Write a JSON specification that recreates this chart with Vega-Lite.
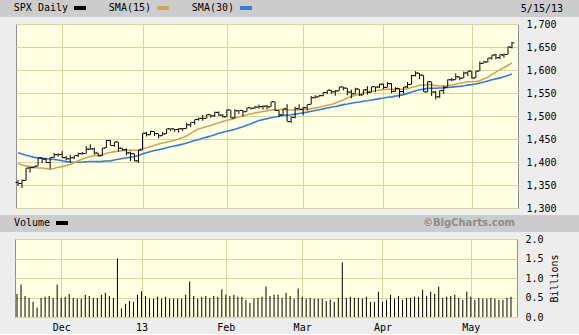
{
"$schema": "https://vega.github.io/schema/vega-lite/v6.json",
"background": "#ededed",
"padding": {"left": 0, "top": 0, "right": 0, "bottom": 1},
"spacing": 1,
"config": {
  "font": "DejaVu Sans Mono",
  "view": {"stroke": null},
  "axis": {"labelFont": "DejaVu Sans Mono", "labelFontSize": 10, "labelColor": "#000000", "gridColor": "#d8d4a2", "gridOpacity": 1, "gridWidth": 1, "domain": false, "ticks": false},
  "legend": {"orient": "none", "direction": "horizontal", "title": null, "symbolType": "M-1,-0.33H1V0.33H-1Z", "symbolSize": 144, "symbolStrokeWidth": 0, "symbolOpacity": 1, "labelFont": "DejaVu Sans Mono", "labelFontSize": 10, "labelColor": "#000000", "labelAlign": "right", "labelOffset": -18, "columnPadding": 22, "padding": 0}
},
"resolve": {"scale": {"color": "independent"}, "legend": {"color": "independent"}},
"datasets": {"d": [
{"t":"2012-11-15","i":0,"o":1355.41,"h":1360.62,"l":1348.05,"c":1353.33,"s15":1396.6,"s30":1420.2,"v":0.59},
{"t":"2012-11-16","i":1,"o":1353.36,"h":1362.03,"l":1343.35,"c":1359.88,"s15":1393.3,"s30":1417.2,"v":0.83},
{"t":"2012-11-19","i":2,"o":1359.88,"h":1386.89,"l":1359.88,"c":1386.89,"s15":1391.6,"s30":1414.7,"v":0.54},
{"t":"2012-11-20","i":3,"o":1386.82,"h":1389.77,"l":1377.04,"c":1387.81,"s15":1390.0,"s30":1412.3,"v":0.49},
{"t":"2012-11-21","i":4,"o":1387.79,"h":1391.25,"l":1386.39,"c":1391.03,"s15":1388.6,"s30":1410.1,"v":0.39},
{"t":"2012-11-23","i":5,"o":1391.03,"h":1409.16,"l":1391.03,"c":1409.15,"s15":1387.3,"s30":1409.0,"v":0.24},
{"t":"2012-11-26","i":6,"o":1409.15,"h":1409.15,"l":1397.68,"c":1406.29,"s15":1386.8,"s30":1408.2,"v":0.49},
{"t":"2012-11-27","i":7,"o":1406.29,"h":1409.01,"l":1398.03,"c":1398.94,"s15":1385.6,"s30":1407.0,"v":0.52},
{"t":"2012-11-28","i":8,"o":1398.77,"h":1410.31,"l":1385.43,"c":1409.93,"s15":1384.3,"s30":1406.4,"v":0.54},
{"t":"2012-11-29","i":9,"o":1409.96,"h":1419.70,"l":1409.04,"c":1415.95,"s15":1385.8,"s30":1405.6,"v":0.49},
{"t":"2012-11-30","i":10,"o":1415.95,"h":1418.86,"l":1411.63,"c":1416.18,"s15":1388.4,"s30":1404.3,"v":0.83},
{"t":"2012-12-03","i":11,"o":1416.34,"h":1423.73,"l":1408.46,"c":1409.46,"s15":1390.3,"s30":1402.6,"v":0.49},
{"t":"2012-12-04","i":12,"o":1409.46,"h":1413.14,"l":1403.65,"c":1407.05,"s15":1392.1,"s30":1400.9,"v":0.52},
{"t":"2012-12-05","i":13,"o":1407.05,"h":1415.56,"l":1398.23,"c":1409.28,"s15":1394.4,"s30":1400.1,"v":0.59},
{"t":"2012-12-06","i":14,"o":1409.43,"h":1413.95,"l":1405.93,"c":1413.94,"s15":1398.3,"s30":1399.5,"v":0.49},
{"t":"2012-12-07","i":15,"o":1413.95,"h":1420.34,"l":1410.90,"c":1418.07,"s15":1402.7,"s30":1399.6,"v":0.47},
{"t":"2012-12-10","i":16,"o":1418.07,"h":1421.64,"l":1415.64,"c":1418.55,"s15":1406.6,"s30":1399.9,"v":0.47},
{"t":"2012-12-11","i":17,"o":1418.55,"h":1434.27,"l":1418.55,"c":1427.84,"s15":1409.3,"s30":1400.4,"v":0.57},
{"t":"2012-12-12","i":18,"o":1427.84,"h":1438.59,"l":1426.76,"c":1428.48,"s15":1412.0,"s30":1401.0,"v":0.54},
{"t":"2012-12-13","i":19,"o":1428.48,"h":1431.36,"l":1416.00,"c":1419.45,"s15":1413.9,"s30":1401.2,"v":0.49},
{"t":"2012-12-14","i":20,"o":1419.45,"h":1419.45,"l":1411.88,"c":1413.58,"s15":1414.2,"s30":1400.8,"v":0.49},
{"t":"2012-12-17","i":21,"o":1413.54,"h":1430.67,"l":1413.54,"c":1430.36,"s15":1415.8,"s30":1401.3,"v":0.57},
{"t":"2012-12-18","i":22,"o":1430.47,"h":1448.00,"l":1430.47,"c":1446.79,"s15":1419.0,"s30":1402.3,"v":0.62},
{"t":"2012-12-19","i":23,"o":1446.79,"h":1447.75,"l":1435.80,"c":1435.81,"s15":1420.7,"s30":1402.5,"v":0.54},
{"t":"2012-12-20","i":24,"o":1435.81,"h":1443.70,"l":1432.82,"c":1443.69,"s15":1422.6,"s30":1404.2,"v":0.49},
{"t":"2012-12-21","i":25,"o":1443.67,"h":1443.67,"l":1422.58,"c":1430.15,"s15":1423.5,"s30":1405.9,"v":1.50},
{"t":"2012-12-24","i":26,"o":1430.15,"h":1430.15,"l":1424.66,"c":1426.66,"s15":1424.7,"s30":1407.5,"v":0.22},
{"t":"2012-12-26","i":27,"o":1426.66,"h":1429.42,"l":1414.76,"c":1419.83,"s15":1425.5,"s30":1408.8,"v":0.34},
{"t":"2012-12-27","i":28,"o":1419.83,"h":1422.80,"l":1401.80,"c":1418.10,"s15":1426.1,"s30":1410.3,"v":0.41},
{"t":"2012-12-28","i":29,"o":1418.10,"h":1418.10,"l":1401.58,"c":1402.43,"s15":1425.3,"s30":1411.8,"v":0.39},
{"t":"2012-12-31","i":30,"o":1402.43,"h":1426.74,"l":1398.11,"c":1426.19,"s15":1425.9,"s30":1414.3,"v":0.57},
{"t":"2013-01-02","i":31,"o":1426.19,"h":1462.43,"l":1426.19,"c":1462.42,"s15":1428.8,"s30":1417.7,"v":0.66},
{"t":"2013-01-03","i":32,"o":1462.42,"h":1465.47,"l":1455.53,"c":1459.37,"s15":1430.9,"s30":1420.1,"v":0.54},
{"t":"2013-01-04","i":33,"o":1459.37,"h":1467.94,"l":1458.99,"c":1466.47,"s15":1433.4,"s30":1422.7,"v":0.47},
{"t":"2013-01-07","i":34,"o":1466.47,"h":1466.47,"l":1456.62,"c":1461.89,"s15":1436.3,"s30":1425.1,"v":0.47},
{"t":"2013-01-08","i":35,"o":1461.89,"h":1461.89,"l":1451.64,"c":1457.15,"s15":1439.2,"s30":1426.7,"v":0.52},
{"t":"2013-01-09","i":36,"o":1457.15,"h":1464.73,"l":1457.15,"c":1461.02,"s15":1441.2,"s30":1428.5,"v":0.47},
{"t":"2013-01-10","i":37,"o":1461.02,"h":1472.30,"l":1461.02,"c":1472.12,"s15":1442.9,"s30":1430.9,"v":0.52},
{"t":"2013-01-11","i":38,"o":1472.12,"h":1472.75,"l":1467.58,"c":1472.05,"s15":1445.3,"s30":1433.0,"v":0.47},
{"t":"2013-01-14","i":39,"o":1472.05,"h":1472.05,"l":1465.69,"c":1470.68,"s15":1447.1,"s30":1434.8,"v":0.47},
{"t":"2013-01-15","i":40,"o":1470.67,"h":1473.31,"l":1463.76,"c":1472.34,"s15":1449.9,"s30":1436.7,"v":0.47},
{"t":"2013-01-16","i":41,"o":1472.33,"h":1473.96,"l":1467.60,"c":1472.63,"s15":1453.0,"s30":1438.8,"v":0.47},
{"t":"2013-01-17","i":42,"o":1472.63,"h":1485.16,"l":1472.63,"c":1480.94,"s15":1457.1,"s30":1441.3,"v":0.57},
{"t":"2013-01-18","i":43,"o":1480.95,"h":1485.98,"l":1475.81,"c":1485.98,"s15":1461.6,"s30":1443.8,"v":0.91},
{"t":"2013-01-22","i":44,"o":1485.98,"h":1492.56,"l":1481.16,"c":1492.56,"s15":1467.6,"s30":1446.5,"v":0.54},
{"t":"2013-01-23","i":45,"o":1492.56,"h":1496.13,"l":1489.90,"c":1494.81,"s15":1472.2,"s30":1449.0,"v":0.47},
{"t":"2013-01-24","i":46,"o":1494.81,"h":1502.27,"l":1489.46,"c":1494.82,"s15":1474.3,"s30":1451.6,"v":0.52},
{"t":"2013-01-25","i":47,"o":1494.82,"h":1503.26,"l":1494.82,"c":1502.96,"s15":1477.2,"s30":1454.1,"v":0.54},
{"t":"2013-01-28","i":48,"o":1502.96,"h":1503.23,"l":1496.33,"c":1500.18,"s15":1479.5,"s30":1456.4,"v":0.49},
{"t":"2013-01-29","i":49,"o":1500.18,"h":1509.35,"l":1498.09,"c":1507.84,"s15":1482.5,"s30":1459.4,"v":0.54},
{"t":"2013-01-30","i":50,"o":1507.84,"h":1509.94,"l":1500.11,"c":1501.96,"s15":1485.5,"s30":1462.3,"v":0.52},
{"t":"2013-01-31","i":51,"o":1501.96,"h":1504.19,"l":1496.76,"c":1498.11,"s15":1488.0,"s30":1464.6,"v":0.71},
{"t":"2013-02-01","i":52,"o":1498.11,"h":1514.41,"l":1498.11,"c":1513.17,"s15":1490.7,"s30":1466.8,"v":0.57},
{"t":"2013-02-04","i":53,"o":1513.17,"h":1513.17,"l":1495.02,"c":1495.71,"s15":1492.3,"s30":1468.8,"v":0.54},
{"t":"2013-02-05","i":54,"o":1495.71,"h":1514.96,"l":1495.71,"c":1511.29,"s15":1495.0,"s30":1471.1,"v":0.57},
{"t":"2013-02-06","i":55,"o":1511.29,"h":1512.53,"l":1504.71,"c":1512.12,"s15":1497.7,"s30":1473.8,"v":0.52},
{"t":"2013-02-07","i":56,"o":1512.12,"h":1512.90,"l":1498.49,"c":1509.39,"s15":1500.1,"s30":1476.5,"v":0.52},
{"t":"2013-02-08","i":57,"o":1509.39,"h":1518.31,"l":1509.39,"c":1517.93,"s15":1502.6,"s30":1479.8,"v":0.44},
{"t":"2013-02-11","i":58,"o":1517.93,"h":1518.31,"l":1513.61,"c":1517.01,"s15":1504.7,"s30":1483.1,"v":0.36},
{"t":"2013-02-12","i":59,"o":1517.01,"h":1522.29,"l":1515.61,"c":1519.43,"s15":1506.5,"s30":1487.0,"v":0.47},
{"t":"2013-02-13","i":60,"o":1519.43,"h":1524.69,"l":1515.93,"c":1520.33,"s15":1508.2,"s30":1490.2,"v":0.49},
{"t":"2013-02-14","i":61,"o":1520.33,"h":1523.14,"l":1514.02,"c":1521.38,"s15":1509.9,"s30":1492.1,"v":0.52},
{"t":"2013-02-15","i":62,"o":1521.38,"h":1524.24,"l":1514.14,"c":1519.79,"s15":1511.1,"s30":1494.1,"v":0.78},
{"t":"2013-02-19","i":63,"o":1519.79,"h":1530.94,"l":1519.79,"c":1530.94,"s15":1513.1,"s30":1496.3,"v":0.54},
{"t":"2013-02-20","i":64,"o":1530.94,"h":1530.94,"l":1511.41,"c":1511.95,"s15":1513.4,"s30":1497.9,"v":0.57},
{"t":"2013-02-21","i":65,"o":1511.95,"h":1511.95,"l":1497.29,"c":1502.42,"s15":1513.4,"s30":1499.5,"v":0.57},
{"t":"2013-02-22","i":66,"o":1502.42,"h":1515.64,"l":1502.42,"c":1515.60,"s15":1514.6,"s30":1501.3,"v":0.49},
{"t":"2013-02-25","i":67,"o":1515.60,"h":1525.84,"l":1487.85,"c":1487.85,"s15":1512.9,"s30":1501.8,"v":0.62},
{"t":"2013-02-26","i":68,"o":1487.85,"h":1498.99,"l":1485.01,"c":1496.94,"s15":1513.0,"s30":1502.6,"v":0.54},
{"t":"2013-02-27","i":69,"o":1496.94,"h":1520.08,"l":1494.88,"c":1515.99,"s15":1513.3,"s30":1504.1,"v":0.47},
{"t":"2013-02-28","i":70,"o":1515.99,"h":1525.34,"l":1514.46,"c":1514.68,"s15":1513.5,"s30":1505.6,"v":0.73},
{"t":"2013-03-01","i":71,"o":1514.68,"h":1519.99,"l":1501.48,"c":1518.20,"s15":1514.0,"s30":1507.1,"v":0.52},
{"t":"2013-03-04","i":72,"o":1518.20,"h":1525.27,"l":1512.29,"c":1525.20,"s15":1514.5,"s30":1508.5,"v":0.47},
{"t":"2013-03-05","i":73,"o":1525.20,"h":1543.47,"l":1525.20,"c":1539.79,"s15":1516.0,"s30":1510.3,"v":0.49},
{"t":"2013-03-06","i":74,"o":1539.79,"h":1545.25,"l":1538.11,"c":1541.46,"s15":1517.5,"s30":1512.0,"v":0.47},
{"t":"2013-03-07","i":75,"o":1541.46,"h":1545.78,"l":1541.46,"c":1544.26,"s15":1519.1,"s30":1513.6,"v":0.47},
{"t":"2013-03-08","i":76,"o":1544.26,"h":1552.48,"l":1542.94,"c":1551.18,"s15":1521.1,"s30":1515.5,"v":0.47},
{"t":"2013-03-11","i":77,"o":1551.15,"h":1556.27,"l":1547.36,"c":1556.22,"s15":1523.5,"s30":1517.3,"v":0.41},
{"t":"2013-03-12","i":78,"o":1556.22,"h":1556.77,"l":1548.24,"c":1552.48,"s15":1525.0,"s30":1519.0,"v":0.44},
{"t":"2013-03-13","i":79,"o":1552.48,"h":1556.39,"l":1544.00,"c":1554.52,"s15":1527.8,"s30":1520.6,"v":0.39},
{"t":"2013-03-14","i":80,"o":1554.52,"h":1563.32,"l":1554.52,"c":1563.23,"s15":1531.8,"s30":1522.6,"v":0.49},
{"t":"2013-03-15","i":81,"o":1563.21,"h":1563.62,"l":1555.74,"c":1560.70,"s15":1534.9,"s30":1524.7,"v":1.40},
{"t":"2013-03-18","i":82,"o":1560.70,"h":1560.70,"l":1545.13,"c":1552.10,"s15":1539.1,"s30":1526.0,"v":0.49},
{"t":"2013-03-19","i":83,"o":1552.10,"h":1557.25,"l":1538.57,"c":1548.34,"s15":1542.6,"s30":1527.8,"v":0.52},
{"t":"2013-03-20","i":84,"o":1548.34,"h":1561.56,"l":1548.34,"c":1558.71,"s15":1545.4,"s30":1529.3,"v":0.49},
{"t":"2013-03-21","i":85,"o":1558.71,"h":1558.71,"l":1543.55,"c":1545.80,"s15":1547.5,"s30":1530.5,"v":0.49},
{"t":"2013-03-22","i":86,"o":1545.90,"h":1557.74,"l":1545.90,"c":1556.89,"s15":1550.1,"s30":1532.0,"v":0.47},
{"t":"2013-03-25","i":87,"o":1556.89,"h":1564.91,"l":1546.22,"c":1551.69,"s15":1551.8,"s30":1533.2,"v":0.52},
{"t":"2013-03-26","i":88,"o":1551.69,"h":1563.95,"l":1551.69,"c":1563.77,"s15":1553.4,"s30":1534.7,"v":0.39},
{"t":"2013-03-27","i":89,"o":1563.75,"h":1564.07,"l":1551.90,"c":1562.85,"s15":1554.9,"s30":1536.2,"v":0.39},
{"t":"2013-03-28","i":90,"o":1562.86,"h":1570.28,"l":1561.08,"c":1569.19,"s15":1556.5,"s30":1537.8,"v":0.65},
{"t":"2013-04-01","i":91,"o":1569.18,"h":1570.57,"l":1558.47,"c":1562.17,"s15":1557.3,"s30":1539.2,"v":0.39},
{"t":"2013-04-02","i":92,"o":1562.17,"h":1573.66,"l":1562.17,"c":1570.25,"s15":1558.2,"s30":1540.8,"v":0.44},
{"t":"2013-04-03","i":93,"o":1570.25,"h":1571.47,"l":1549.80,"c":1553.69,"s15":1558.3,"s30":1541.6,"v":0.57},
{"t":"2013-04-04","i":94,"o":1553.69,"h":1562.60,"l":1552.52,"c":1559.98,"s15":1558.6,"s30":1543.2,"v":0.47},
{"t":"2013-04-05","i":95,"o":1559.98,"h":1559.98,"l":1539.50,"c":1553.28,"s15":1558.0,"s30":1544.9,"v":0.54},
{"t":"2013-04-08","i":96,"o":1553.26,"h":1563.07,"l":1548.63,"c":1563.07,"s15":1558.1,"s30":1546.5,"v":0.44},
{"t":"2013-04-09","i":97,"o":1563.11,"h":1573.89,"l":1560.92,"c":1568.61,"s15":1559.2,"s30":1549.2,"v":0.49},
{"t":"2013-04-10","i":98,"o":1568.61,"h":1589.07,"l":1568.61,"c":1587.73,"s15":1561.9,"s30":1552.2,"v":0.49},
{"t":"2013-04-11","i":99,"o":1587.73,"h":1597.35,"l":1586.17,"c":1593.37,"s15":1564.2,"s30":1554.8,"v":0.52},
{"t":"2013-04-12","i":100,"o":1593.30,"h":1593.30,"l":1579.97,"c":1588.85,"s15":1567.0,"s30":1557.2,"v":0.52},
{"t":"2013-04-15","i":101,"o":1588.84,"h":1588.84,"l":1552.28,"c":1552.36,"s15":1566.7,"s30":1558.4,"v":0.70},
{"t":"2013-04-16","i":102,"o":1552.36,"h":1575.35,"l":1552.36,"c":1574.57,"s15":1568.3,"s30":1560.0,"v":0.54},
{"t":"2013-04-17","i":103,"o":1574.57,"h":1574.57,"l":1543.69,"c":1552.01,"s15":1567.5,"s30":1560.4,"v":0.65},
{"t":"2013-04-18","i":104,"o":1552.03,"h":1554.38,"l":1536.03,"c":1541.61,"s15":1566.1,"s30":1560.4,"v":0.59},
{"t":"2013-04-19","i":105,"o":1541.61,"h":1555.89,"l":1539.40,"c":1555.25,"s15":1565.1,"s30":1560.8,"v":0.78},
{"t":"2013-04-22","i":106,"o":1555.25,"h":1565.55,"l":1548.19,"c":1562.50,"s15":1565.1,"s30":1561.2,"v":0.49},
{"t":"2013-04-23","i":107,"o":1562.50,"h":1579.58,"l":1562.50,"c":1578.78,"s15":1565.7,"s30":1561.9,"v":0.52},
{"t":"2013-04-24","i":108,"o":1578.78,"h":1583.00,"l":1575.80,"c":1578.79,"s15":1567.4,"s30":1562.8,"v":0.54},
{"t":"2013-04-25","i":109,"o":1578.78,"h":1592.64,"l":1578.78,"c":1585.16,"s15":1569.1,"s30":1563.8,"v":0.57},
{"t":"2013-04-26","i":110,"o":1585.16,"h":1585.78,"l":1577.56,"c":1582.24,"s15":1571.0,"s30":1564.5,"v":0.49},
{"t":"2013-04-29","i":111,"o":1582.34,"h":1596.65,"l":1582.34,"c":1593.61,"s15":1573.0,"s30":1565.6,"v":0.44},
{"t":"2013-04-30","i":112,"o":1593.58,"h":1597.57,"l":1586.50,"c":1597.57,"s15":1575.0,"s30":1567.1,"v":0.65},
{"t":"2013-05-01","i":113,"o":1597.55,"h":1597.55,"l":1581.28,"c":1582.70,"s15":1574.6,"s30":1568.2,"v":0.52},
{"t":"2013-05-02","i":114,"o":1582.77,"h":1598.60,"l":1582.77,"c":1597.59,"s15":1574.9,"s30":1569.5,"v":0.44},
{"t":"2013-05-03","i":115,"o":1597.60,"h":1618.46,"l":1597.60,"c":1614.42,"s15":1576.6,"s30":1571.8,"v":0.49},
{"t":"2013-05-06","i":116,"o":1614.40,"h":1619.77,"l":1614.21,"c":1617.50,"s15":1581.0,"s30":1573.8,"v":0.47},
{"t":"2013-05-07","i":117,"o":1617.55,"h":1626.03,"l":1616.64,"c":1625.96,"s15":1584.4,"s30":1576.3,"v":0.47},
{"t":"2013-05-08","i":118,"o":1625.95,"h":1632.78,"l":1622.70,"c":1632.69,"s15":1589.8,"s30":1578.6,"v":0.49},
{"t":"2013-05-09","i":119,"o":1632.69,"h":1635.01,"l":1623.09,"c":1626.67,"s15":1595.4,"s30":1580.7,"v":0.47},
{"t":"2013-05-10","i":120,"o":1626.69,"h":1633.70,"l":1623.71,"c":1633.70,"s15":1600.7,"s30":1582.9,"v":0.44},
{"t":"2013-05-13","i":121,"o":1632.10,"h":1636.00,"l":1626.74,"c":1633.77,"s15":1605.4,"s30":1585.3,"v":0.44},
{"t":"2013-05-14","i":122,"o":1633.75,"h":1651.10,"l":1633.75,"c":1650.34,"s15":1610.2,"s30":1587.9,"v":0.49},
{"t":"2013-05-15","i":123,"o":1649.13,"h":1661.49,"l":1646.68,"c":1658.78,"s15":1615.5,"s30":1591.4,"v":0.52}
]},
"vconcat": [
  {
    "width": 579, "height": 17,
    "data": {"values": []},
    "mark": "rect",
    "view": {"fill": "#cccccc", "stroke": null},
    "encoding": {
      "color": {"datum": "SPX Daily", "type": "nominal",
                "scale": {"domain": ["SPX Daily", "SMA(15)", "SMA(30)"], "range": ["#000000", "#d3a35c", "#3a7bd5"]},
                "legend": {"legendX": 74, "legendY": 2}}
    },
    "title": {"text": "5/15/13", "orient": "bottom", "anchor": "end", "offset": -13, "dx": -16, "baseline": "top", "font": "DejaVu Sans Mono", "fontSize": 10, "fontWeight": "normal", "color": "#000000"}
  },
  {
    "hconcat": [
      {"width": 14, "height": 184, "data": {"values": []}, "mark": "rect", "view": {"stroke": null}},
      {
        "width": 502, "height": 184,
        "data": {"name": "d"},
        "view": {"fill": "#ffffe2", "stroke": "#8e8e8e"},
        "encoding": {
          "x": {"field": "i", "type": "quantitative", "scale": {"domain": [-0.5, 124.5], "nice": false, "zero": false},
                "axis": {"values": [11, 31, 52, 71, 91, 113], "labels": false, "title": null, "grid": true}}
        },
        "layer": [
          {
            "mark": {"type": "line", "strokeWidth": 1.6, "color": "#3a7bd5"},
            "encoding": {
              "y": {"field": "s30", "type": "quantitative", "scale": {"domain": [1300, 1700], "nice": false, "zero": false},
                    "axis": {"orient": "right", "values": [1300, 1350, 1400, 1450, 1500, 1550, 1600, 1650, 1700], "format": ",.0f", "title": null, "labelPadding": 8, "grid": true}}
            }
          },
          {
            "mark": {"type": "line", "strokeWidth": 1.6, "color": "#d3a35c"},
            "encoding": {
              "y": {"field": "s15", "type": "quantitative", "scale": {"domain": [1300, 1700], "nice": false, "zero": false},
                    "axis": {"orient": "right", "values": [1300, 1350, 1400, 1450, 1500, 1550, 1600, 1650, 1700], "format": ",.0f", "title": null, "labelPadding": 8, "grid": true}}
            }
          },
          {
            "mark": {"type": "rule", "color": "#000000", "strokeWidth": 1},
            "encoding": {
              "y": {"field": "l", "type": "quantitative", "scale": {"domain": [1300, 1700], "nice": false, "zero": false},
                    "axis": {"orient": "right", "values": [1300, 1350, 1400, 1450, 1500, 1550, 1600, 1650, 1700], "format": ",.0f", "title": null, "labelPadding": 8, "grid": true}},
              "y2": {"field": "h"}
            }
          },
          {
            "mark": {"type": "tick", "orient": "horizontal", "size": 2, "thickness": 1, "xOffset": -1.5, "color": "#000000", "opacity": 1},
            "encoding": {
              "y": {"field": "o", "type": "quantitative", "scale": {"domain": [1300, 1700], "nice": false, "zero": false},
                    "axis": {"orient": "right", "values": [1300, 1350, 1400, 1450, 1500, 1550, 1600, 1650, 1700], "format": ",.0f", "title": null, "labelPadding": 8, "grid": true}}
            }
          },
          {
            "mark": {"type": "tick", "orient": "horizontal", "size": 2, "thickness": 1, "xOffset": 1.5, "color": "#000000", "opacity": 1},
            "encoding": {
              "y": {"field": "c", "type": "quantitative", "scale": {"domain": [1300, 1700], "nice": false, "zero": false},
                    "axis": {"orient": "right", "values": [1300, 1350, 1400, 1450, 1500, 1550, 1600, 1650, 1700], "format": ",.0f", "title": null, "labelPadding": 8, "grid": true}}
            }
          }
        ]
      }
    ],
    "spacing": 0
  },
  {
    "width": 579, "height": 17,
    "data": {"values": []},
    "mark": "rect",
    "view": {"fill": "#cccccc", "stroke": null},
    "encoding": {
      "color": {"datum": "Volume", "type": "nominal", "scale": {"domain": ["Volume"], "range": ["#000000"]},
                "legend": {"legendX": 56, "legendY": 2}}
    },
    "title": {"text": "©BigCharts.com", "orient": "bottom", "anchor": "end", "offset": -14, "dx": -64, "baseline": "top", "font": "DejaVu Sans", "fontSize": 10, "fontWeight": "bold", "color": "#8c8c8c"}
  },
  {
    "hconcat": [
      {"width": 14, "height": 78, "data": {"values": []}, "mark": "rect", "view": {"stroke": null}},
      {
        "width": 502, "height": 78,
        "data": {"name": "d"},
        "view": {"fill": "#ffffe2", "stroke": "#8e8e8e"},
        "mark": {"type": "rule", "strokeWidth": 1, "color": "#000000"},
        "encoding": {
          "x": {"field": "i", "type": "quantitative", "scale": {"domain": [-0.5, 124.5], "nice": false, "zero": false},
                "axis": {"values": [11, 31, 52, 71, 91, 113], "title": null, "grid": true, "labelPadding": 5,
                         "labelExpr": "datum.value == 11 ? 'Dec' : datum.value == 31 ? '13' : datum.value == 52 ? 'Feb' : datum.value == 71 ? 'Mar' : datum.value == 91 ? 'Apr' : 'May'"}},
          "y": {"field": "v", "type": "quantitative", "scale": {"domain": [0, 2], "nice": false, "zero": true},
                "axis": {"orient": "right", "values": [0, 0.5, 1, 1.5, 2], "format": ".1f", "title": "Billions", "titleAngle": 270, "titleFont": "DejaVu Sans Mono", "titleFontSize": 10, "titleFontWeight": "normal", "titleColor": "#000000", "titlePadding": 16, "labelPadding": 8, "grid": true}},
          "y2": {"datum": 0}
        }
      }
    ],
    "spacing": 0
  }
]
}
